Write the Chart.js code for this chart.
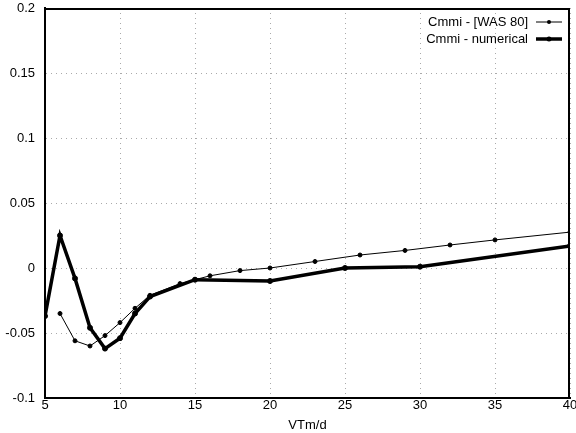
<!DOCTYPE html>
<html>
<head>
<meta charset="utf-8">
<script src="https://cdn.jsdelivr.net/npm/chart.js@4"></script>
<style>
  html, body { margin: 0; padding: 0; background: #fff; overflow: hidden; }
  #wrap { width: 576px; height: 433px; }
  canvas { display: block; }
</style>
</head>
<body>
<div id="wrap"><canvas id="chart" width="576" height="433"></canvas></div>
<script>
// values
const wasX = [6, 7, 8, 9, 10, 11, 12, 14, 15, 16, 18, 20, 23, 26, 29, 32, 35, 40];
const wasY = [-0.035, -0.056, -0.060, -0.052, -0.042, -0.031, -0.021, -0.012, -0.009, -0.006, -0.002, 0, 0.005, 0.010, 0.0135, 0.0177, 0.0216, 0.0276];
const numX = [5, 6, 7, 8, 9, 10, 11, 12, 15, 20, 25, 30, 40];
const numY = [-0.037, 0.025, -0.008, -0.046, -0.062, -0.054, -0.035, -0.022, -0.009, -0.010, 0, 0.001, 0.017];
const xTicks = [5, 10, 15, 20, 25, 30, 35, 40];
const yTicks = ['-0.1', '-0.05', '0', '0.05', '0.1', '0.15', '0.2'];
const seriesNames = ['Cmmi - [WAS 80]', 'Cmmi - numerical'];

const FONT = 'Liberation Sans, Arial, sans-serif';

const toPoints = (xs, ys) => xs.map((x, i) => ({ x: x, y: ys[i] }));

// closing frame line + legend in the top right, text left of the line sample
const legendPlugin = {
  id: 'rightLegend',
  afterDraw(chart) {
    const { ctx, chartArea: a } = chart;
    ctx.save();
    ctx.strokeStyle = '#000';
    ctx.lineWidth = 2;
    ctx.beginPath();
    ctx.moveTo(a.left, a.top + 1);
    ctx.lineTo(a.right - 1, a.top + 1);
    ctx.lineTo(a.right - 1, a.bottom);
    ctx.stroke();

    ctx.font = '13px ' + FONT;
    ctx.fillStyle = '#000';
    ctx.textAlign = 'right';
    ctx.textBaseline = 'middle';
    const widths = [1, 3.5];
    seriesNames.forEach((name, i) => {
      const y = a.top + 14 + i * 17;
      ctx.fillText(name, a.right - 42, y);
      ctx.beginPath();
      ctx.lineWidth = widths[i];
      ctx.moveTo(a.right - 34, y);
      ctx.lineTo(a.right - 8, y);
      ctx.stroke();
      ctx.beginPath();
      ctx.arc(a.right - 21, y, i === 0 ? 2 : 2.5, 0, Math.PI * 2);
      ctx.fill();
    });
    ctx.restore();
  }
};

new Chart(document.getElementById('chart'), {
  type: 'line',
  data: {
    datasets: [
      {
        label: seriesNames[0],
        data: toPoints(wasX, wasY),
        borderColor: '#000',
        backgroundColor: '#000',
        borderWidth: 1,
        pointRadius: 2,
        pointBorderWidth: 1,
        pointBackgroundColor: '#000',
        tension: 0
      },
      {
        label: seriesNames[1],
        data: toPoints(numX, numY),
        borderColor: '#000',
        backgroundColor: '#000',
        borderWidth: 3.5,
        pointRadius: 2.5,
        pointBorderWidth: 1,
        pointBackgroundColor: '#000',
        tension: 0
      }
    ]
  },
  options: {
    responsive: false,
    animation: false,
    layout: { padding: { top: 8, right: 6, left: 0, bottom: 0 } },
    plugins: {
      legend: { display: false },
      tooltip: { enabled: false }
    },
    scales: {
      x: {
        type: 'linear',
        min: 5,
        max: 40,
        afterBuildTicks(axis) { axis.ticks = xTicks.map(v => ({ value: v })); },
        afterFit(axis) { axis.height = 35; axis.paddingLeft = 0; axis.paddingRight = 6; },
        ticks: {
          color: '#000',
          font: { family: FONT, size: 13 },
          padding: 0,
          maxRotation: 0,
          callback: v => String(v)
        },
        grid: { color: '#aaa', lineWidth: 1, drawTicks: false, tickLength: 0 },
        border: { display: true, color: '#000', width: 2, dash: [1, 4] },
        title: {
          display: true,
          text: 'VTm/d',
          color: '#000',
          font: { family: FONT, size: 13 },
          padding: { top: 0, bottom: 0 }
        }
      },
      y: {
        type: 'linear',
        min: -0.1,
        max: 0.2,
        afterBuildTicks(axis) { axis.ticks = yTicks.map(v => ({ value: parseFloat(v) })); },
        afterFit(axis) { axis.width = 45; axis.paddingTop = 0; axis.paddingBottom = 0; },
        ticks: {
          color: '#000',
          font: { family: FONT, size: 13 },
          padding: 10,
          callback: (v, i) => yTicks[i]
        },
        grid: { color: '#aaa', lineWidth: 1, drawTicks: false },
        border: { display: true, color: '#000', width: 2, dash: [1, 4] }
      }
    }
  },
  plugins: [legendPlugin]
});
</script>
</body>
</html>
